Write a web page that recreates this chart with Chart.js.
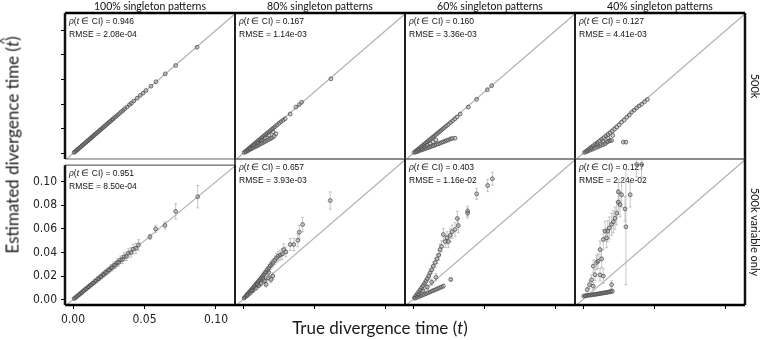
<!DOCTYPE html>
<html>
<head>
<meta charset="utf-8">
<script src="https://cdn.jsdelivr.net/npm/chart.js@4.4.0/dist/chart.umd.min.js"></script>
<style>
body { margin: 0; background: #fff; }
#wrap { position: relative; width: 760px; height: 340px; overflow: hidden; font-family: Lato, 'Open Sans', sans-serif; }
#wrap canvas { position: absolute; }
.lbl { position: absolute; white-space: nowrap; line-height: 1; color: #111; transform: translate(-50%, -50%); }
.big { font-weight: 400; color: #1a1a1a; }
.hatbox { position: relative; display: inline-block; }
.hat { position: absolute; left: 0.16em; top: -0.38em; font-style: normal; font-size: 0.8em; }
</style>
</head>
<body>
<div id="wrap"></div>
<script>
//axis ticks and labels
var x_ticks = [0, 0.05, 0.10];
var y_ticks = [0, 0.02, 0.04, 0.06, 0.08, 0.10];
var x_range = [-0.0056, 0.1133];
var y_range = [-0.0045, 0.114];
var diag = [-0.02, 0.13];
var col_titles = ['100% singleton patterns', '80% singleton patterns', '60% singleton patterns', '40% singleton patterns'];
var row_titles = ['500k', '500k variable only'];
var coverage = [['0.946', '0.167', '0.160', '0.127'], ['0.951', '0.657', '0.403', '0.127']];
var rmse = [['2.08e-04', '1.14e-03', '3.36e-03', '4.41e-03'], ['8.50e-04', '3.93e-03', '1.16e-02', '2.24e-02']];

//500k, true vs estimated divergence time
var true_100_all = [0.0008,0.0015,0.0022,0.0030,0.0036,0.0043,0.0051,0.0058,0.0066,0.0072,
    0.0080,0.0088,0.0095,0.0103,0.0110,0.0118,0.0125,0.0133,0.0141,0.0148,
    0.0156,0.0164,0.0171,0.0179,0.0187,0.0195,0.0203,0.0211,0.0219,0.0228,
    0.0236,0.0245,0.0254,0.0262,0.0271,0.0280,0.0290,0.0301,0.0312,0.0325,
    0.0338,0.0350,0.0362,0.0378,0.0395,0.0408,0.0425,0.0449,0.0470,0.0490,
    0.0510,0.0545,0.0580,0.0645,0.0718,0.0868];
var est_100_all = [0.0009,0.0014,0.0023,0.0029,0.0037,0.0042,0.0052,0.0057,0.0067,0.0071,
    0.0081,0.0087,0.0096,0.0102,0.0111,0.0117,0.0126,0.0132,0.0142,0.0147,
    0.0157,0.0163,0.0172,0.0178,0.0188,0.0194,0.0204,0.0210,0.0220,0.0227,
    0.0237,0.0244,0.0255,0.0261,0.0272,0.0279,0.0291,0.0300,0.0313,0.0324,
    0.0339,0.0349,0.0363,0.0377,0.0396,0.0407,0.0426,0.0448,0.0471,0.0489,
    0.0511,0.0546,0.0582,0.0646,0.0714,0.0862];

var true_80_all = [0.0008,0.0018,0.0027,0.0036,0.0046,0.0055,0.0064,0.0074,0.0083,0.0093,
    0.0102,0.0112,0.0121,0.0131,0.0140,0.0150,0.0160,0.0170,0.0180,0.0191,
    0.0202,0.0213,0.0225,0.0238,0.0252,0.0266,0.0280,0.0295,0.0330,0.0370,
    0.0394,0.0410,0.0615,
    0.0020,0.0034,0.0048,0.0060,0.0072,0.0085,0.0097,0.0108,0.0120,0.0132,
    0.0144,0.0156,0.0168,0.0180,0.0193,0.0205,0.0218,0.0230,0.0050,0.0078,
    0.0104,0.0130,0.0155,0.0182,0.0210];
var est_80_all = [0.0008,0.0017,0.0026,0.0035,0.0045,0.0053,0.0062,0.0072,0.0081,0.0090,
    0.0099,0.0109,0.0118,0.0127,0.0136,0.0146,0.0155,0.0165,0.0175,0.0185,
    0.0196,0.0207,0.0218,0.0231,0.0245,0.0258,0.0270,0.0282,0.0320,0.0376,
    0.0397,0.0416,0.0606,
    0.0013,0.0022,0.0031,0.0039,0.0046,0.0054,0.0061,0.0068,0.0076,0.0083,
    0.0090,0.0098,0.0106,0.0113,0.0121,0.0128,0.0140,0.0160,0.0041,0.0064,
    0.0085,0.0106,0.0127,0.0150,0.0175];

var true_60_all = [0.0008,0.0018,0.0028,0.0038,0.0048,0.0058,0.0068,0.0078,0.0088,0.0098,
    0.0108,0.0118,0.0128,0.0139,0.0150,0.0161,0.0172,0.0184,0.0196,0.0208,
    0.0221,0.0234,0.0248,0.0262,0.0277,0.0292,0.0308,0.0330,0.0387,0.0445,
    0.0520,0.0550,
    0.0020,0.0032,0.0044,0.0056,0.0068,0.0080,0.0092,0.0104,0.0116,0.0128,
    0.0140,0.0152,0.0164,0.0176,0.0188,0.0200,0.0212,0.0224,0.0236,0.0248,
    0.0262,0.0275,0.0294,
    0.0040,0.0060,0.0080,0.0100,0.0120,0.0140,0.0160];
var est_60_all = [0.0008,0.0017,0.0027,0.0036,0.0046,0.0055,0.0065,0.0074,0.0084,0.0093,
    0.0103,0.0113,0.0122,0.0133,0.0143,0.0154,0.0164,0.0176,0.0187,0.0199,
    0.0211,0.0224,0.0237,0.0251,0.0265,0.0280,0.0296,0.0320,0.0376,0.0440,
    0.0517,0.0550,
    0.0011,0.0016,0.0022,0.0027,0.0032,0.0037,0.0042,0.0047,0.0052,0.0057,
    0.0062,0.0067,0.0073,0.0078,0.0083,0.0089,0.0094,0.0100,0.0106,0.0110,
    0.0118,0.0122,0.0124,
    0.0030,0.0042,0.0055,0.0068,0.0080,0.0095,0.0110];

var true_40_all = [0.0010,0.0025,0.0040,0.0055,0.0070,0.0085,0.0100,0.0115,0.0130,0.0145,
    0.0160,0.0175,0.0190,0.0205,0.0220,0.0236,0.0253,0.0270,0.0288,0.0306,
    0.0324,0.0340,0.0358,0.0375,0.0392,0.0410,0.0430,0.0450,
    0.0020,0.0035,0.0050,0.0065,0.0080,0.0096,0.0110,0.0125,0.0140,0.0155,
    0.0166,0.0178,0.0189,0.0200,0.0208,0.0282,0.0300,
    0.0060,0.0100,0.0140,0.0175];
var est_40_all = [0.0009,0.0022,0.0036,0.0049,0.0062,0.0075,0.0088,0.0101,0.0114,0.0127,
    0.0140,0.0153,0.0166,0.0180,0.0196,0.0213,0.0232,0.0254,0.0272,0.0294,
    0.0312,0.0335,0.0352,0.0370,0.0386,0.0400,0.0420,0.0438,
    0.0012,0.0019,0.0027,0.0034,0.0042,0.0050,0.0057,0.0064,0.0071,0.0079,
    0.0092,0.0098,0.0105,0.0105,0.0146,0.0092,0.0092,
    0.0045,0.0072,0.0100,0.0125];

//500k variable only, with CI half widths
var true_100_var = [0.0008,0.0016,0.0024,0.0032,0.0040,0.0048,0.0056,0.0064,0.0072,0.0080,
    0.0088,0.0096,0.0104,0.0112,0.0120,0.0128,0.0136,0.0145,0.0154,0.0163,
    0.0172,0.0181,0.0190,0.0199,0.0208,0.0217,0.0226,0.0235,0.0245,0.0255,
    0.0265,0.0275,0.0286,0.0297,0.0308,0.0320,0.0332,0.0345,0.0358,0.0372,
    0.0388,0.0405,0.0422,0.0440,0.0458,0.0538,0.0578,0.0643,0.0718,0.0872];
var est_100_var = [0.0010,0.0015,0.0026,0.0031,0.0042,0.0046,0.0058,0.0062,0.0075,0.0078,
    0.0091,0.0094,0.0107,0.0110,0.0123,0.0126,0.0139,0.0142,0.0158,0.0160,
    0.0176,0.0178,0.0194,0.0196,0.0213,0.0214,0.0231,0.0232,0.0250,0.0252,
    0.0270,0.0272,0.0292,0.0293,0.0314,0.0316,0.0338,0.0340,0.0364,0.0368,
    0.0394,0.0401,0.0428,0.0436,0.0464,0.0533,0.0600,0.0630,0.0749,0.0873];
var err_100_var = [0.0003,0.0004,0.0005,0.0005,0.0006,0.0006,0.0007,0.0008,0.0008,0.0009,
    0.0010,0.0010,0.0011,0.0012,0.0012,0.0013,0.0014,0.0015,0.0015,0.0016,
    0.0017,0.0018,0.0019,0.0019,0.0020,0.0021,0.0022,0.0023,0.0024,0.0025,
    0.0026,0.0027,0.0028,0.0029,0.0030,0.0031,0.0032,0.0034,0.0035,0.0036,
    0.0038,0.0040,0.0041,0.0043,0.0045,0.0022,0.0030,0.0030,0.0065,0.0095];

var true_80_var = [0.0008,0.0015,0.0022,0.0030,0.0037,0.0045,0.0052,0.0060,0.0067,0.0075,
    0.0082,0.0090,0.0097,0.0105,0.0112,0.0120,0.0128,0.0136,0.0144,0.0152,
    0.0160,0.0170,0.0180,0.0190,0.0200,0.0210,0.0222,0.0234,0.0246,0.0260,
    0.0275,0.0285,0.0300,0.0330,0.0355,0.0383,0.0394,0.0417,0.0610,
    0.0030,0.0050,0.0070,0.0090,0.0110,0.0126,0.0150,0.0161,0.0175,0.0196,
    0.0208,0.0060,0.0100,0.0140,0.0180];
var est_80_var = [0.0011,0.0020,0.0030,0.0041,0.0050,0.0061,0.0070,0.0081,0.0090,0.0102,
    0.0110,0.0122,0.0131,0.0142,0.0152,0.0163,0.0175,0.0187,0.0199,0.0212,
    0.0224,0.0240,0.0255,0.0272,0.0286,0.0300,0.0318,0.0335,0.0350,0.0360,
    0.0370,0.0405,0.0386,0.0446,0.0446,0.0480,0.0546,0.0608,0.0803,
    0.0031,0.0050,0.0072,0.0092,0.0112,0.0130,0.0152,0.0122,0.0175,0.0162,
    0.0190,0.0070,0.0122,0.0170,0.0220];
var err_80_var = [0.0004,0.0005,0.0006,0.0007,0.0008,0.0009,0.0010,0.0011,0.0012,0.0013,
    0.0014,0.0015,0.0016,0.0017,0.0018,0.0019,0.0020,0.0021,0.0022,0.0023,
    0.0024,0.0026,0.0028,0.0030,0.0031,0.0033,0.0035,0.0037,0.0039,0.0041,
    0.0043,0.0045,0.0040,0.0048,0.0050,0.0052,0.0055,0.0058,0.0070,
    0.0006,0.0009,0.0012,0.0015,0.0018,0.0020,0.0022,0.0020,0.0025,0.0024,
    0.0026,0.0010,0.0016,0.0021,0.0026];

var true_60_var = [0.0010,0.0020,0.0030,0.0040,0.0050,0.0060,0.0070,0.0080,0.0090,0.0100,
    0.0110,0.0119,0.0130,0.0142,0.0155,0.0168,0.0180,0.0189,0.0200,0.0212,
    0.0225,0.0238,0.0247,0.0260,0.0273,0.0294,0.0310,0.0317,0.0382,0.0382,
    0.0445,0.0522,0.0555,
    0.0015,0.0030,0.0045,0.0060,0.0075,0.0090,0.0105,0.0120,0.0135,0.0150,
    0.0165,0.0180,0.0196,0.0212,0.0264,
    0.0040,0.0070,0.0100,0.0130,0.0160];
var est_60_var = [0.0015,0.0030,0.0046,0.0062,0.0078,0.0095,0.0112,0.0130,0.0148,0.0168,
    0.0190,0.0216,0.0240,0.0270,0.0300,0.0330,0.0360,0.0405,0.0430,0.0527,
    0.0470,0.0500,0.0470,0.0520,0.0550,0.0568,0.0657,0.0600,0.0716,0.0700,
    0.0857,0.0925,0.0980,
    0.0010,0.0017,0.0024,0.0031,0.0039,0.0046,0.0054,0.0061,0.0069,0.0076,
    0.0084,0.0092,0.0100,0.0108,0.0162,
    0.0040,0.0070,0.0100,0.0140,0.0180];
var err_60_var = [0.0005,0.0007,0.0009,0.0011,0.0013,0.0015,0.0017,0.0019,0.0021,0.0023,
    0.0025,0.0028,0.0030,0.0033,0.0036,0.0038,0.0040,0.0045,0.0045,0.0050,
    0.0048,0.0050,0.0050,0.0052,0.0054,0.0055,0.0058,0.0058,0.0040,0.0040,
    0.0045,0.0050,0.0052,
    0.0003,0.0004,0.0005,0.0006,0.0007,0.0008,0.0009,0.0010,0.0011,0.0012,
    0.0013,0.0014,0.0015,0.0016,0.0012,
    0.0010,0.0015,0.0020,0.0025,0.0030];

var true_40_var = [0.0005,0.0015,0.0025,0.0035,0.0045,0.0055,0.0065,0.0075,0.0085,0.0095,
    0.0105,0.0115,0.0125,0.0135,0.0145,0.0155,0.0165,0.0175,0.0185,0.0195,
    0.0205,
    0.0030,0.0045,0.0060,0.0072,0.0072,0.0084,0.0095,0.0105,0.0119,0.0119,
    0.0130,0.0142,0.0142,0.0154,0.0165,0.0173,0.0184,0.0200,0.0200,0.0212,
    0.0224,0.0236,0.0247,0.0247,0.0259,0.0270,0.0294,0.0300,0.0330,0.0375,
    0.0410];
var est_40_var = [0.0027,0.0030,0.0032,0.0033,0.0035,0.0036,0.0038,0.0040,0.0041,0.0043,
    0.0045,0.0047,0.0049,0.0051,0.0053,0.0055,0.0057,0.0059,0.0062,0.0065,
    0.0067,
    0.0080,0.0120,0.0160,0.0108,0.0270,0.0200,0.0300,0.0310,0.0405,0.0200,
    0.0330,0.0487,0.0190,0.0554,0.0500,0.0554,0.0580,0.0610,0.0120,0.0630,
    0.0660,0.0700,0.0873,0.0790,0.0770,0.0850,0.0735,0.0590,0.0850,0.1095,
    0.1095];
var err_40_var = [0.0005,0.0005,0.0006,0.0006,0.0006,0.0007,0.0007,0.0007,0.0008,0.0008,
    0.0008,0.0009,0.0009,0.0010,0.0010,0.0010,0.0011,0.0011,0.0012,0.0012,
    0.0012,
    0.0020,0.0030,0.0040,0.0030,0.0050,0.0045,0.0060,0.0060,0.0070,0.0050,
    0.0070,0.0080,0.0060,0.0080,0.0080,0.0085,0.0090,0.0090,0.0030,0.0090,
    0.0090,0.0095,0.0100,0.0100,0.0100,0.0100,0.0100,0.0470,0.0100,0.0100,
    0.0100];

var series = [
    [{t: true_100_all, e: est_100_all}, {t: true_80_all, e: est_80_all},
     {t: true_60_all, e: est_60_all}, {t: true_40_all, e: est_40_all}],
    [{t: true_100_var, e: est_100_var, err: err_100_var}, {t: true_80_var, e: est_80_var, err: err_80_var},
     {t: true_60_var, e: est_60_var, err: err_60_var}, {t: true_40_var, e: est_40_var, err: err_40_var}]
];

//panel layout in px
var col_left = [65, 235, 405, 575];
var row_top = [13, 159];
const panel_w = 170, panel_h = 146;
const pad_l = 45, pad_t = 5, pad_r = 5, pad_b = 25;
const tick_font = {family: "'Liberation Sans Narrow', 'DejaVu Sans Condensed', sans-serif", size: 12};

var wrap = document.getElementById('wrap');

function addLabel(text, x, y, size, rot, cls){
    var el = document.createElement('div');
    el.className = 'lbl' + (cls ? ' ' + cls : '');
    el.innerHTML = text;
    el.style.left = x + 'px';
    el.style.top = y + 'px';
    el.style.fontSize = size + 'px';
    if(rot) el.style.transform = 'translate(-50%, -50%) rotate(' + rot + 'deg)';
    wrap.appendChild(el);
}

function makePanel(r, c){
    var d = series[r][c];
    var pts = d.t.map(function(v, i){
        return {x: v, y: d.e[i], err: d.err ? d.err[i] : 0};
    });
    var cv = document.createElement('canvas');
    cv.width = panel_w + pad_l + pad_r;
    cv.height = panel_h + pad_t + pad_b;
    cv.style.left = (col_left[c] - pad_l) + 'px';
    cv.style.top = (row_top[r] - pad_t) + 'px';
    wrap.appendChild(cv);

    // stats text in the top left corner
    var statsText = {
        id: 'statsText',
        beforeDatasetsDraw(chart){
            var ctx = chart.ctx, a = chart.chartArea;
            var x = a.left + 4;
            var parts = [['ρ', true], ['(', false], ['t', true], [' ∈ CI) = ' + coverage[r][c], false]];
            ctx.save();
            ctx.fillStyle = '#111';
            ctx.textBaseline = 'middle';
            parts.forEach(function(p){
                ctx.font = (p[1] ? 'italic ' : '') + "8.5px 'Liberation Sans', sans-serif";
                ctx.fillText(p[0], x, a.top + 8.5);
                x += ctx.measureText(p[0]).width;
            });
            ctx.font = "8.5px 'Liberation Sans', sans-serif";
            ctx.fillText('RMSE = ' + rmse[r][c], a.left + 4, a.top + 21.5);
            ctx.restore();
        }
    };

    var errorBars = {
        id: 'errorBars',
        beforeDatasetsDraw(chart){
            if(!d.err) return;
            var ctx = chart.ctx, a = chart.chartArea;
            var xs = chart.scales.x, ys = chart.scales.y;
            ctx.save();
            ctx.beginPath();
            ctx.rect(a.left, a.top, a.width, a.height);
            ctx.clip();
            ctx.strokeStyle = 'rgba(170,170,170,0.85)';
            ctx.lineWidth = 0.8;
            pts.forEach(function(p){
                var px = xs.getPixelForValue(p.x);
                var y0 = ys.getPixelForValue(p.y - p.err);
                var y1 = ys.getPixelForValue(p.y + p.err);
                ctx.beginPath();
                ctx.moveTo(px, y0); ctx.lineTo(px, y1);
                ctx.moveTo(px - 1.5, y0); ctx.lineTo(px + 1.5, y0);
                ctx.moveTo(px - 1.5, y1); ctx.lineTo(px + 1.5, y1);
                ctx.stroke();
            });
            ctx.restore();
        }
    };

    var frame = {
        id: 'frame',
        afterDraw(chart){
            var ctx = chart.ctx, a = chart.chartArea;
            function edge(x0, y0, x1, y1, w, col){
                ctx.beginPath();
                ctx.lineWidth = w;
                ctx.strokeStyle = col;
                ctx.moveTo(x0, y0); ctx.lineTo(x1, y1);
                ctx.stroke();
            }
            ctx.save();
            edge(a.left, a.top, a.right, a.top, r == 0 ? 2.5 : 1.2, r == 0 ? '#000' : '#666');
            edge(a.left, a.bottom, a.right, a.bottom, r == 1 ? 2.5 : 1.2, r == 1 ? '#000' : '#666');
            edge(a.left, a.top, a.left, a.bottom, c == 0 ? 2.5 : 1.5, '#111');
            edge(a.right, a.top, a.right, a.bottom, c == 3 ? 2.5 : 1.5, '#111');
            ctx.restore();
        }
    };

    new Chart(cv, {
        type: 'scatter',
        data: {
            datasets: [{
                data: pts,
                pointRadius: 1.9,
                pointBorderWidth: 0.9,
                borderColor: 'rgba(80, 80, 80, 0.9)',
                backgroundColor: 'rgba(140, 140, 140, 0.35)',
                clip: 0,
                order: 1,
            }, {
                data: [{x: diag[0], y: diag[0]}, {x: diag[1], y: diag[1]}],
                showLine: true,
                pointRadius: 0,
                borderColor: '#b4b4b4',
                borderWidth: 1.2,
                clip: 0,
                order: 2,
            }]
        },
        options: {
            responsive: false,
            animation: false,
            devicePixelRatio: 1,
            events: [],
            layout: {padding: {top: pad_t, right: pad_r, left: 0, bottom: 0}},
            plugins: {legend: {display: false}, tooltip: {enabled: false}},
            scales: {
                x: {
                    type: 'linear',
                    min: x_range[0],
                    max: x_range[1],
                    afterFit: function(s){ s.height = pad_b; },
                    afterBuildTicks: function(s){ s.ticks = x_ticks.map(function(v){ return {value: v}; }); },
                    grid: {display: r == 1, drawOnChartArea: false, tickLength: 4, tickColor: '#000', tickWidth: 1},
                    border: {display: false},
                    ticks: {
                        display: r == 1 && c == 0,
                        padding: 4,
                        maxRotation: 0,
                        autoSkip: false,
                        color: '#222',
                        font: tick_font,
                        callback: function(v){ return Number(v).toFixed(2); }
                    }
                },
                y: {
                    type: 'linear',
                    min: y_range[0],
                    max: y_range[1],
                    afterFit: function(s){ s.width = pad_l; },
                    afterBuildTicks: function(s){ s.ticks = y_ticks.map(function(v){ return {value: v}; }); },
                    grid: {display: c == 0, drawOnChartArea: false, tickLength: 4, tickColor: '#000', tickWidth: 1},
                    border: {display: false},
                    ticks: {
                        display: r == 1 && c == 0,
                        padding: 4,
                        autoSkip: false,
                        color: '#222',
                        font: tick_font,
                        callback: function(v){ return Number(v).toFixed(2); }
                    }
                }
            }
        },
        plugins: [statsText, errorBars, frame]
    });
}

for(var r = 0; r < 2; r++){
    for(var c = 0; c < 4; c++){
        makePanel(r, c);
    }
}

col_titles.forEach(function(t, c){
    addLabel(t, col_left[c] + panel_w / 2, 6, 10.5);
});
addLabel(row_titles[0], 755, 86, 11, 90);
addLabel(row_titles[1], 755, 232, 11, 90);
addLabel('Estimated divergence time (<span class="hatbox"><i>t</i><span class="hat">^</span></span>)', 12, 145, 17, -90, 'big');
addLabel('True divergence time (<i>t</i>)', 380, 327, 17, 0, 'big');
</script>
</body>
</html>
